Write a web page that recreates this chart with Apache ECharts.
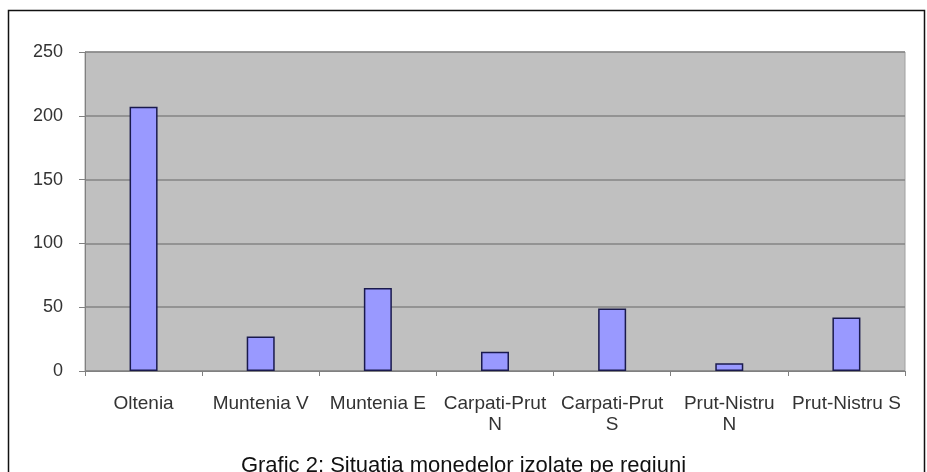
<!DOCTYPE html>
<html>
<head>
<meta charset="utf-8">
<script src="https://cdn.jsdelivr.net/npm/echarts@6/dist/echarts.min.js"></script>
<style>
  html, body { margin: 0; padding: 0; background: #fff; }
  #chart { width: 927px; height: 472px; }
</style>
</head>
<body>
<div id="chart"></div>
<script>
const categories = ['Oltenia', 'Muntenia V', 'Muntenia E', 'Carpati-Prut\nN', 'Carpati-Prut\nS', 'Prut-Nistru\nN', 'Prut-Nistru S'];
const values = [207, 27, 65, 15, 49, 6, 42];
const yTicks = [0, 50, 100, 150, 200, 250];
const titleText = 'Grafic 2: Situaţia monedelor izolate pe regiuni';

const chart = echarts.init(document.getElementById('chart'), null, { renderer: 'canvas' });
const font = '"Liberation Sans", Arial, sans-serif';
chart.setOption({
  animation: false,
  backgroundColor: '#ffffff',
  graphic: [{
    type: 'rect',
    shape: { x: 8.5, y: 10.5, width: 916, height: 480 },
    style: { fill: 'none', stroke: '#111', lineWidth: 1.5 },
    silent: true
  }],
  title: {
    text: titleText,
    left: 'center',
    top: 450,
    textStyle: { fontFamily: font, fontSize: 22, fontWeight: 'normal', color: '#111' }
  },
  grid: {
    left: 85, right: 22, top: 52, bottom: 101,
    show: true, backgroundColor: '#c0c0c0', borderColor: '#a0a0a0', borderWidth: 1
  },
  xAxis: {
    type: 'category',
    data: categories,
    axisLine: { show: true, lineStyle: { color: '#808080', width: 1 } },
    axisTick: { show: true, length: 5, lineStyle: { color: '#808080' } },
    axisLabel: {
      interval: 0, margin: 22, fontFamily: font, fontSize: 19, lineHeight: 21, color: '#333'
    },
    splitLine: { show: false }
  },
  yAxis: {
    type: 'value',
    min: yTicks[0], max: yTicks[yTicks.length - 1], interval: 50,
    axisLine: { show: true, lineStyle: { color: '#808080', width: 1 } },
    axisTick: { show: true, length: 6, lineStyle: { color: '#808080' } },
    axisLabel: { margin: 22, fontFamily: font, fontSize: 18, color: '#333' },
    splitLine: { show: true, lineStyle: { color: '#858585', width: 1.5 } }
  },
  series: [{
    type: 'bar',
    data: values,
    barWidth: 28,
    itemStyle: { color: '#9999ff', borderColor: '#1a1a4d', borderWidth: 1.5 }
  }]
});
</script>
</body>
</html>
